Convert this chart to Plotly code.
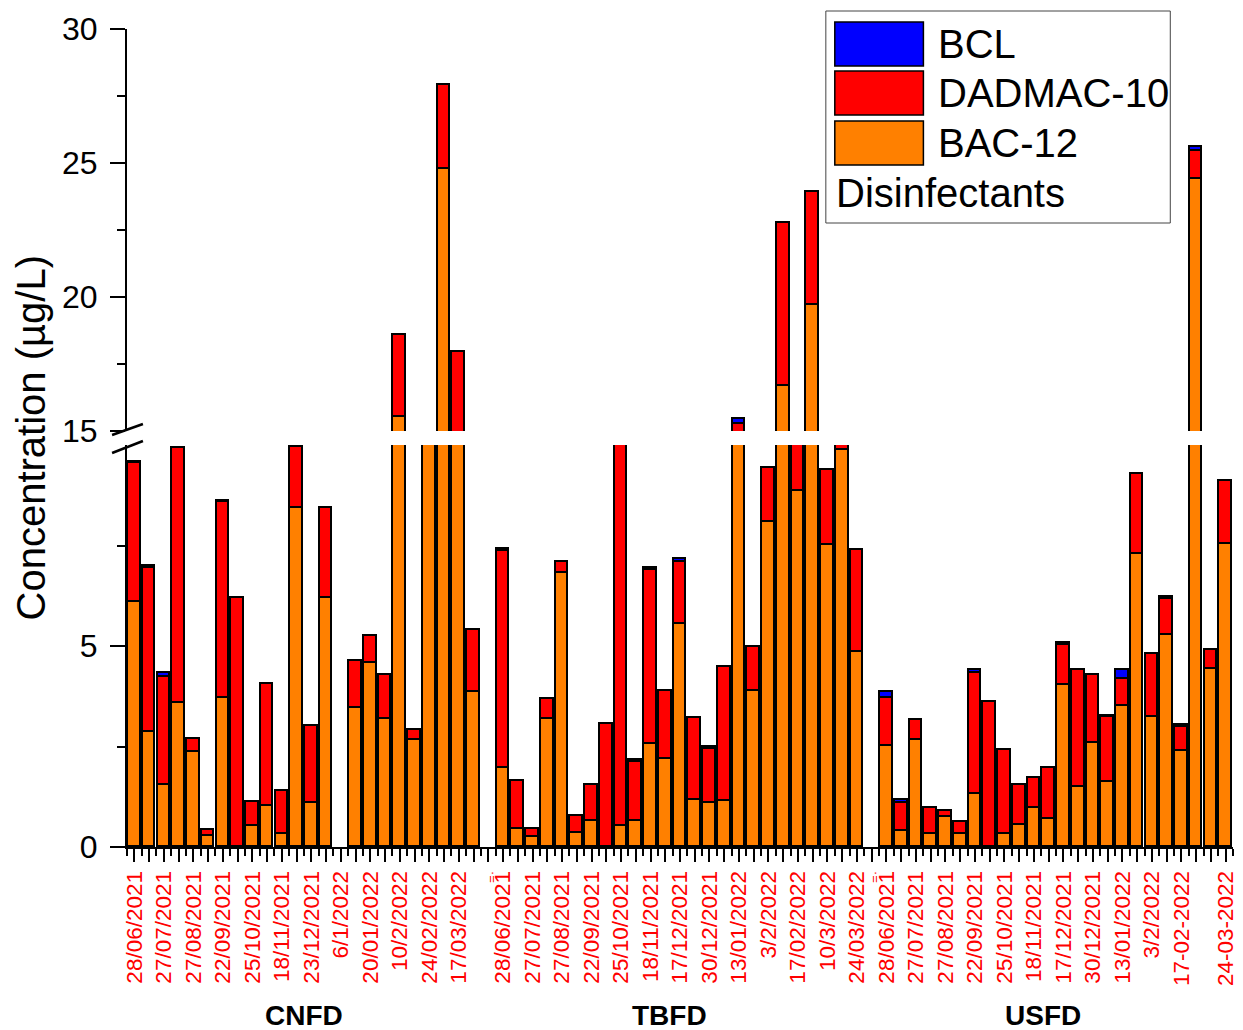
import plotly.graph_objects as go

# Sampling slots: CNFD 0-23, gap 24, TBFD 25-49, gap 50, USFD 51-74
slots = list(range(75))

GAP_MARK = "<span style='font-size:13px'>=·</span>"

slot_labels = [
    # CNFD
    "28/06/2021", "", "27/07/2021", "", "27/08/2021", "", "22/09/2021", "",
    "25/10/2021", "", "18/11/2021", "", "23/12/2021", "", "6/1/2022", "",
    "20/01/2022", "", "10/2/2022", "", "24/02/2022", "", "17/03/2022", "",
    GAP_MARK,
    # TBFD
    "28/06/2021", "", "27/07/2021", "", "27/08/2021", "", "22/09/2021", "",
    "25/10/2021", "", "18/11/2021", "", "17/12/2021", "", "30/12/2021", "",
    "13/01/2022", "", "3/2/2022", "", "17/02/2022", "", "10/3/2022", "",
    "24/03/2022",
    GAP_MARK,
    # USFD
    "28/06/2021", "", "27/07/2021", "", "27/08/2021", "", "22/09/2021", "",
    "25/10/2021", "", "18/11/2021", "", "17/12/2021", "", "30/12/2021", "",
    "13/01/2022", "", "3/2/2022", "", "17-02-2022", "", "", "24-03-2022",
]

# Concentrations in µg/L (None = no sample)
bac12 = [
    6.10, 2.87, 1.53, 3.59, 2.37, 0.27, 3.71, 0.00, 0.53, 1.02, 0.32, 8.44,
    1.09, 6.20, None, 3.47, 4.57, 3.18, 15.53, 2.66, 12.80, 24.77, 13.60, 3.86,
    None,
    1.97, 0.46, 0.24, 3.18, 6.81, 0.34, 0.65, 0.00, 0.52, 0.65, 2.55, 2.18,
    5.54, 1.18, 1.10, 1.14, 14.80, 3.89, 8.09, 16.68, 8.86, 19.70, 7.51, 9.88,
    4.86,
    None,
    2.52, 0.41, 2.66, 0.32, 0.75, 0.32, 1.31, 0.00, 0.32, 0.55, 0.98, 0.69,
    4.03, 1.50, 2.58, 1.62, 3.51, 7.30, 3.24, 5.27, 2.39, 24.39, 4.44, 7.53,
]
dadmac10 = [
    3.44, 4.06, 2.70, 6.33, 0.32, 0.15, 4.86, 6.20, 0.58, 3.03, 1.07, 1.52,
    1.92, 2.24, None, 1.16, 0.68, 1.10, 3.05, 0.26, 0.70, 3.14, 4.34, 1.54,
    None,
    5.40, 1.19, 0.22, 0.50, 0.29, 0.44, 0.89, 3.05, 11.50, 1.47, 4.34, 1.70,
    1.56, 2.02, 1.35, 3.33, 0.45, 1.08, 1.35, 6.07, 3.20, 4.23, 1.88, 0.40,
    2.54,
    None,
    1.19, 0.68, 0.50, 0.66, 0.15, 0.29, 3.03, 3.60, 2.09, 0.99, 0.74, 1.27,
    0.99, 2.90, 1.70, 1.61, 0.68, 1.99, 1.55, 0.90, 0.60, 1.06, 0.47, 1.57,
]
bcl = [
    0.04, 0.05, 0.11, 0.00, 0.00, 0.00, 0.03, 0.00, 0.00, 0.00, 0.00, 0.00,
    0.00, 0.00, None, 0.00, 0.00, 0.00, 0.00, 0.00, 0.00, 0.00, 0.00, 0.00,
    None,
    0.05, 0.00, 0.00, 0.00, 0.00, 0.00, 0.00, 0.00, 0.00, 0.05, 0.04, 0.00,
    0.07, 0.00, 0.04, 0.00, 0.20, 0.00, 0.00, 0.00, 0.00, 0.00, 0.00, 0.00,
    0.00,
    None,
    0.14, 0.08, 0.00, 0.00, 0.00, 0.00, 0.06, 0.00, 0.00, 0.00, 0.00, 0.00,
    0.06, 0.00, 0.00, 0.04, 0.21, 0.00, 0.00, 0.05, 0.04, 0.13, 0.00, 0.00,
]

groups = ["CNFD", "TBFD", "USFD"]
group_centers = [11.5, 36.3, 61.6]

series = [
    ("BAC-12", bac12, "#FF8000"),
    ("DADMAC-10", dadmac10, "#FF0000"),
    ("BCL", bcl, "#0000FF"),
]

FONT = "Liberation Sans, Arial, sans-serif"
W, H = 1243, 1030
ML, MR, MT, MB = 127, 5, 29, 183
PW, PH = W - ML - MR, H - MT - MB


def px_x(px):
    return (px - ML) / PW


def px_y(py):
    return (H - MB - py) / PH


def clean(vals):
    return [v if (v is not None and v > 0) else None for v in vals]


fig = go.Figure()
# the same stack is drawn on the lower (0-10) and upper (15-30) segments
for yax in ("y", "y2"):
    for name, vals, color in series:
        fig.add_trace(go.Bar(
            x=slots, y=clean(vals), name=name, xaxis="x", yaxis=yax,
            width=0.86, showlegend=False,
            marker=dict(color=color, line=dict(color="black", width=1.7)),
        ))

axis_common = dict(
    showline=True, linecolor="black", linewidth=2, mirror=False,
    ticks="outside", tickcolor="black", tickwidth=2, showgrid=False,
    zeroline=False,
)

fig.update_layout(
    width=W, height=H,
    margin=dict(l=ML, r=MR, t=MT, b=MB),
    paper_bgcolor="white", plot_bgcolor="white",
    barmode="stack", bargap=0,
    font=dict(family=FONT, color="black"),
    xaxis=dict(
        **axis_common, domain=[0, 1], range=[-0.5, 74.5], anchor="y",
        tickmode="array", tickvals=slots, ticktext=slot_labels,
        tickangle=-90, ticklen=13, ticklabelstandoff=0,
        tickfont=dict(size=22.5, color="#FF0000", family=FONT),
        minor=dict(ticks="outside", ticklen=7, tickwidth=2, tickcolor="black",
                   tickmode="array", tickvals=[i + 0.5 for i in range(-1, 75)]),
    ),
    yaxis=dict(
        **axis_common, domain=[0, px_y(445)], range=[0, 10], anchor="x",
        tickmode="array", tickvals=[0, 5], ticklen=15, ticklabelstandoff=6,
        tickfont=dict(size=32, family=FONT),
        minor=dict(ticks="outside", ticklen=8, tickwidth=2, tickcolor="black",
                   tickmode="array", tickvals=[2.5, 7.5]),
    ),
    yaxis2=dict(
        **axis_common, domain=[px_y(431), 1], range=[15, 30], anchor="x",
        tickmode="array", tickvals=[15, 20, 25, 30], ticklen=15,
        ticklabelstandoff=6, tickfont=dict(size=32, family=FONT),
        minor=dict(ticks="outside", ticklen=8, tickwidth=2, tickcolor="black",
                   tickmode="array", tickvals=[17.5, 22.5, 27.5]),
    ),
)

shapes = []
# axis break marks
for (xa, ya, xb, yb) in [(112, 435, 143, 424), (112, 453, 143, 441)]:
    shapes.append(dict(type="line", xref="paper", yref="paper",
                       x0=px_x(xa), y0=px_y(ya), x1=px_x(xb), y1=px_y(yb),
                       line=dict(color="black", width=2.5)))

# legend box with swatches
shapes.append(dict(type="rect", xref="paper", yref="paper",
                   x0=px_x(829), y0=px_y(11), x1=px_x(1175), y1=px_y(223),
                   line=dict(color="#444444", width=1), fillcolor="white"))
legend_rows = [("BCL", "#0000FF", 22), ("DADMAC-10", "#FF0000", 71),
               ("BAC-12", "#FF8000", 121)]
annotations = []
for label, color, top in legend_rows:
    shapes.append(dict(type="rect", xref="paper", yref="paper",
                       x0=px_x(838), y0=px_y(top), x1=px_x(927), y1=px_y(top + 44),
                       line=dict(color="black", width=1.5), fillcolor=color))
    annotations.append(dict(text=label, xref="paper", yref="paper",
                            x=px_x(940), y=px_y(top + 22), xanchor="left",
                            yanchor="middle", showarrow=False,
                            font=dict(size=40, family=FONT, color="black")))
annotations.append(dict(text="Disinfectants", xref="paper", yref="paper",
                        x=px_x(837), y=px_y(193), xanchor="left",
                        yanchor="middle", showarrow=False,
                        font=dict(size=40, family=FONT, color="black")))

# y-axis title
annotations.append(dict(text="Concentration (µg/L)", xref="paper", yref="paper",
                        x=px_x(31), y=px_y(438), textangle=-90,
                        xanchor="center", yanchor="middle", showarrow=False,
                        font=dict(size=40, family=FONT, color="black")))

# site group labels
for g, c in zip(groups, group_centers):
    annotations.append(dict(text=f"<b>{g}</b>", xref="x", yref="paper",
                            x=c, y=px_y(1015), xanchor="center",
                            yanchor="middle", showarrow=False,
                            font=dict(size=28, family=FONT, color="black")))

fig.update_layout(shapes=shapes, annotations=annotations)

fig.write_html("out.html")
